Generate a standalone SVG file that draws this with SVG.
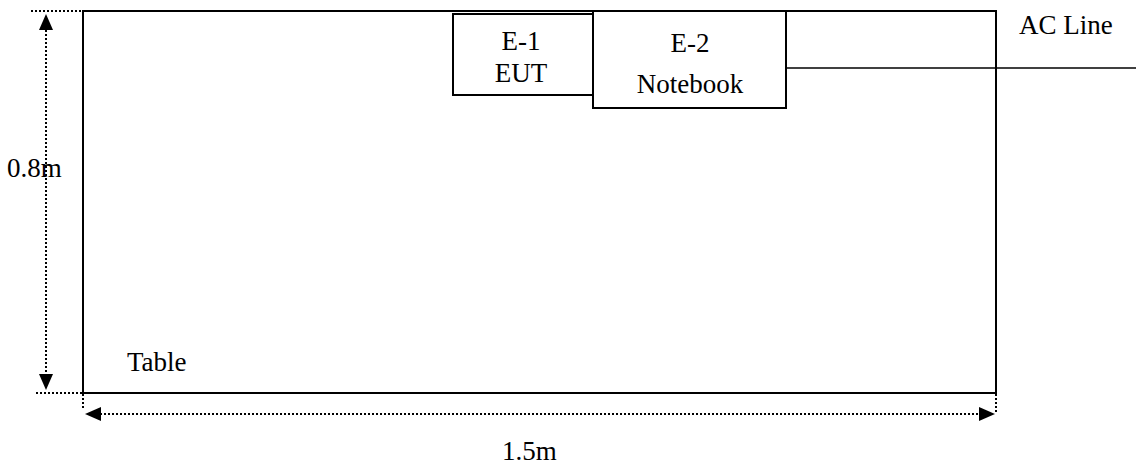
<svg xmlns="http://www.w3.org/2000/svg" width="1136" height="464" viewBox="0 0 1136 464">
<style>
.box{fill:#fff;stroke:#000;stroke-width:2}
.dot{stroke:#000;stroke-width:2;stroke-dasharray:2 2;fill:none}
.ln{stroke:#000;stroke-width:1.5;fill:none}
.t{font-family:"Liberation Serif","Times New Roman","DejaVu Serif",serif;font-size:27px;fill:#000}
</style>
<g id="table">
<rect class="box" x="83" y="11" width="913" height="382"/>
<text class="t" x="127" y="371">Table</text>
</g>
<g id="connectors">
<line class="dot" x1="31" y1="11" x2="100" y2="11"/>
<line class="dot" x1="36" y1="393" x2="83" y2="393"/>
<line class="dot" x1="46" y1="30" x2="46" y2="374"/>
<path d="M46,14 L39,30 L53,30 z" fill="#000"/>
<path d="M46,390 L39,374 L53,374 z" fill="#000"/>
<line class="dot" x1="83" y1="394" x2="83" y2="408"/>
<line class="dot" x1="996" y1="394" x2="996" y2="413"/>
<line class="dot" x1="100" y1="414" x2="980" y2="414"/>
<path d="M85,414 L101,407 L101,421 z" fill="#000"/>
<path d="M995,414 L979,407 L979,421 z" fill="#000"/>
<line class="ln" x1="786" y1="68" x2="1136" y2="68"/>
</g>
<g id="e1">
<rect class="box" x="453" y="14" width="140" height="81"/>
<text class="t" x="521" y="50" text-anchor="middle">E-1</text>
<text class="t" x="521" y="82" text-anchor="middle">EUT</text>
</g>
<g id="e2">
<rect class="box" x="593" y="11" width="193" height="97"/>
<text class="t" x="690" y="52" text-anchor="middle">E-2</text>
<text class="t" x="690" y="93" text-anchor="middle">Notebook</text>
</g>
<g id="labels">
<text class="t" x="1019" y="34">AC Line</text>
<text class="t" x="7" y="177">0.8m</text>
<text class="t" x="502" y="460">1.5m</text>
</g>
</svg>
